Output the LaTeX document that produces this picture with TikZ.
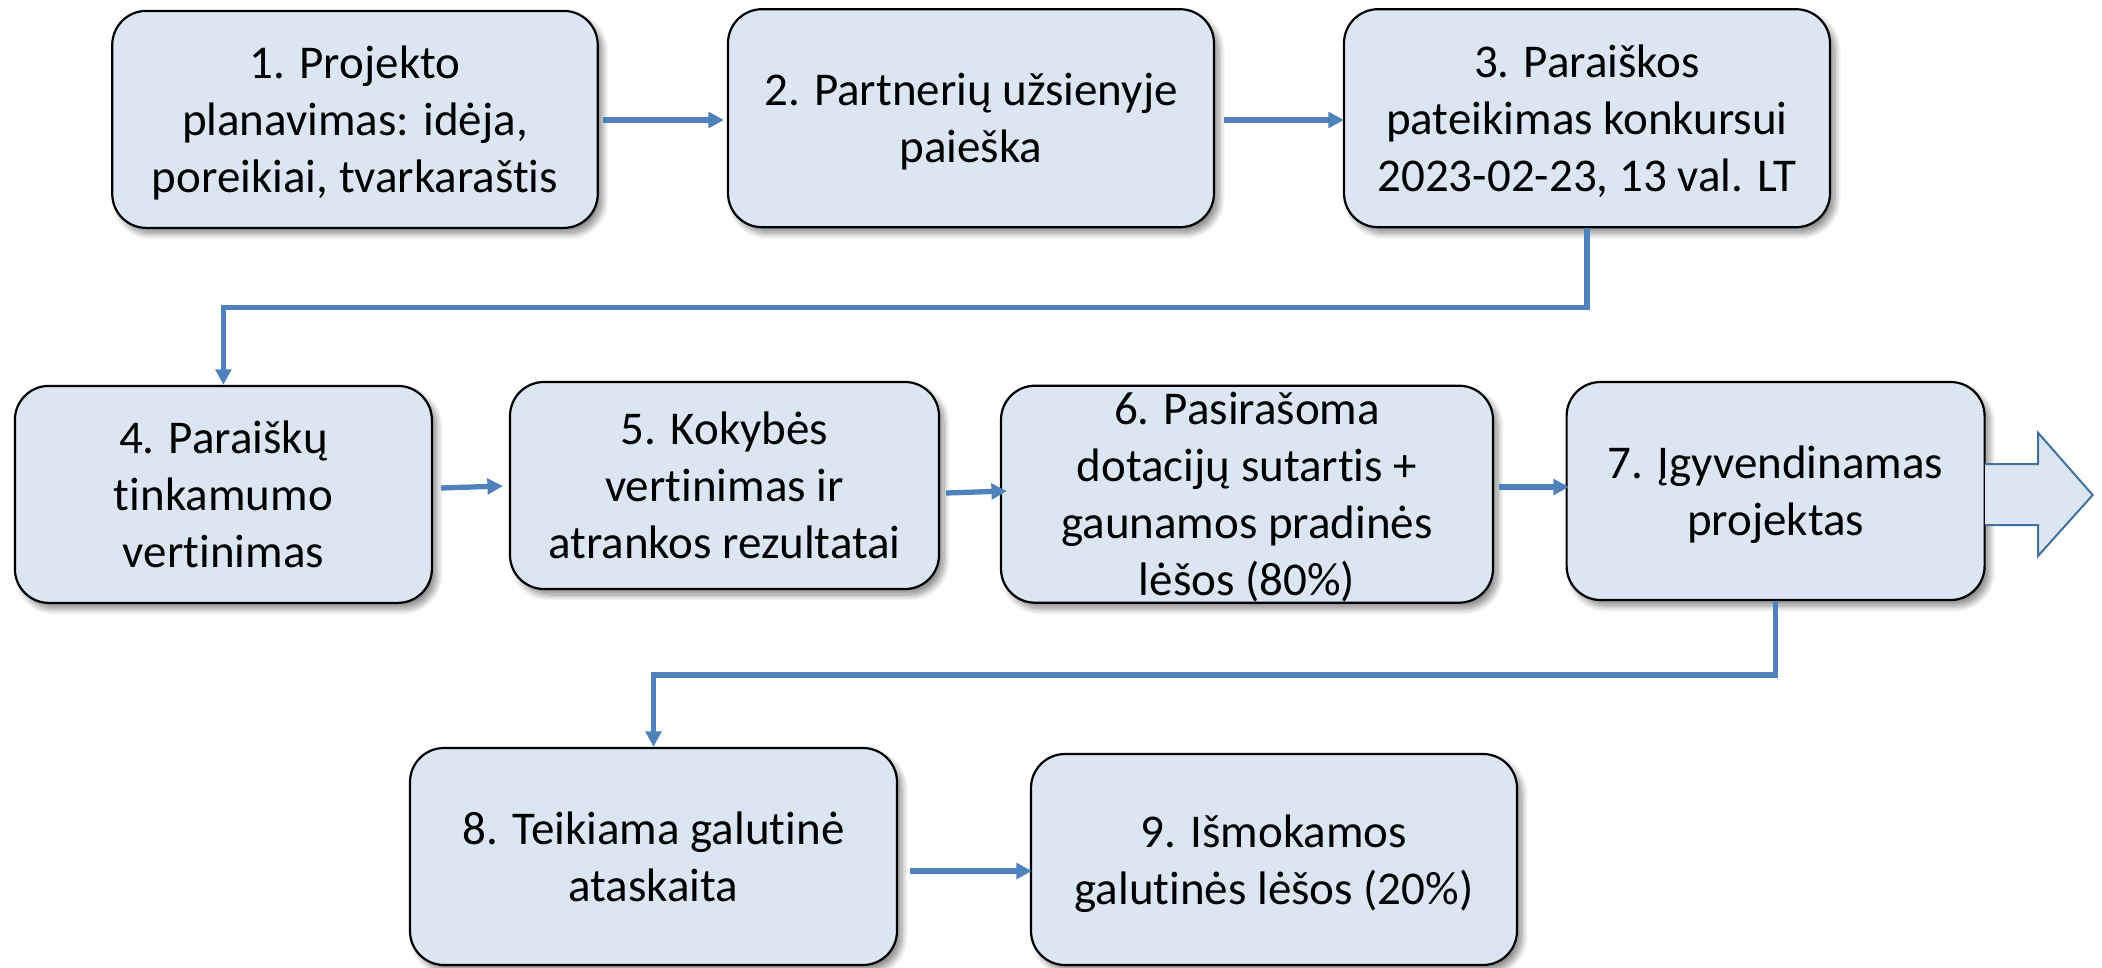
\documentclass[tikz,border=0pt]{standalone}
\usepackage{fontspec}
\setmainfont{Carlito}[RawFeature={-liga;-clig;-calt;-dlig}]
\usetikzlibrary{arrows.meta,shadows,shadows.blur}
\definecolor{boxfill}{HTML}{DCE6F2}
\definecolor{arrowblue}{HTML}{4F81BD}
\definecolor{outlineblue}{HTML}{41719C}
\newcommand{\strA}{\rule[-10pt]{0pt}{52pt}}
\newcommand{\strB}{\rule[-6pt]{0pt}{44pt}}
\newcommand{\tI}{t\kern0pt i}
\tikzset{
  stepbox/.style={draw=black, line width=2.2pt, fill=boxfill, rounded corners=34pt,
    inner sep=0pt, align=center, font=\fontsize{47}{57}\selectfont,
    blur shadow={shadow xshift=5pt, shadow yshift=-6pt, shadow opacity=45,
      shadow blur radius=6pt, shadow blur steps=10}},
  arr/.style={draw=arrowblue, line width=5.3pt, -{Triangle[length=15.5pt,width=15.5pt]}},
  elbow/.style={arr, sharp corners}
}
\begin{document}
\begin{tikzpicture}[x=1pt,y=-1pt]
\useasboundingbox (0,0) rectangle (2102,967);
\node[stepbox, minimum width=485.5pt, minimum height=217pt] (n1) at (355,119.4)
  {\strA 1. Projekto\\\strA planavimas: idėja,\\\strA poreikiai, tvarkarašt\kern0pt is};
\node[stepbox, minimum width=486pt, minimum height=218pt] (n2) at (971,118.2)
  {\strA 2. Partnerių užsienyje\\\strA paieška};
\node[stepbox, minimum width=486pt, minimum height=218pt] (n3) at (1587,118.2)
  {\strA 3. Paraiškos\\\strA pateikimas konkursui\\\strA 2023-02-23, 13 val. LT};
\node[stepbox, minimum width=417pt, minimum height=217pt] (n4) at (223.4,494.4)
  {\strA 4. Paraiškų\\\strA \tI nkamumo\\\strA ver\tI nimas};
\node[stepbox, minimum width=429pt, minimum height=207pt] (n5) at (724.5,485.5)
  {\strA 5. Kokybės\\\strA ver\tI nimas ir\\\strA atrankos rezultatai};
\node[stepbox, minimum width=492pt, minimum height=217pt] (n6) at (1247,494.2)
  {\strB 6. Pasirašoma\\\strB dotacijų sutar\tI s +\\\strB gaunamos pradinės\\\strB lėšos (80\%)};
\node[stepbox, minimum width=418pt, minimum height=218pt] (n7) at (1775.6,491)
  {\strA 7. Įgyvendinamas\\\strA projektas};
\node[stepbox, minimum width=487pt, minimum height=217pt] (n8) at (653.5,856.5)
  {\strA 8. Teikiama galu\tI nė\\\strA ataskaita};
\node[stepbox, minimum width=486pt, minimum height=211pt] (n9) at (1274,859.5)
  {\strA 9. Išmokamos\\\strA galu\tI nės lėšos (20\%)};
% big outline arrow to the right of box 7
\fill[boxfill] (1985,464) -- (2038,464) -- (2038,432.7) -- (2092.7,495) -- (2038,556) -- (2038,525) -- (1985,525) -- cycle;
\draw[outlineblue, line width=2pt, line join=miter] (1985,464) -- (2038,464) -- (2038,432.7) -- (2092.7,495) -- (2038,556) -- (2038,525) -- (1985,525);
% connectors
\draw[arr] ([shift={(3.7,0.6)}]n1.east) -- ([shift={(-3,1.8)}]n2.west);
\draw[arr] ([shift={(9,1.8)}]n2.east) -- ([shift={(1,1.8)}]n3.west);
\draw[elbow] (n3.south) -- ++(0,79.5) -| (n4.north);
\draw[arr] ([shift={(8,-6.4)}]n4.east) -- ([shift={(-6,0.5)}]n5.west);
\draw[arr] ([shift={(6,7.5)}]n5.east) -- ([shift={(7,-3.2)}]n6.west);
\draw[arr] ([shift={(5,-7.2)}]n6.east) -- ([shift={(3.4,-4)}]n7.west);
\draw[elbow] (n7.south) -- ++(0,74) -| (n8.north);
\draw[arr] ([shift={(12,14.5)}]n8.east) -- ([shift={(2,11.5)}]n9.west);
\end{tikzpicture}
\end{document}
